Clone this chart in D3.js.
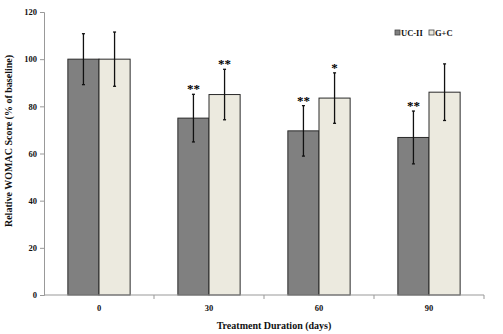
<!DOCTYPE html>
<html>
<head>
<meta charset="utf-8">
<script src="https://cdn.jsdelivr.net/npm/d3@7"></script>
<style>
  body { margin: 0; background: #fff; }
  svg text { font-family: "Liberation Serif", "Times New Roman", serif; font-weight: bold; }
</style>
</head>
<body>
<div class="chart"></div>
<script>
let days = ['0', '30', '60', '90'];
let groups = ['UC-II', 'G+C'];
let ucValues = [100, 75, 69.6, 66.8];
let ucErrors = [10.8, 10.1, 10.7, 11.2];
let gcValues = [100, 85, 83.5, 86];
let gcErrors = [11.5, 10.7, 10.7, 12];
let ucStars = ['', '**', '**', '**'];
let gcStars = ['', '**', '*', ''];
let yTicks = [0, 20, 40, 60, 80, 100, 120];

let width = 503, height = 334;
let margin = {left: 44, right: 19, top: 12, bottom: 39};

let svg = d3.select('div.chart').append('svg')
  .attr('width', width).attr('height', height);

let x = d3.scaleBand()
  .domain(days)
  .range([margin.left, width - margin.right])
  .paddingInner(0).paddingOuter(0);

let barW = x.bandwidth() * 0.283;

let xSub = d3.scaleBand()
  .domain(groups)
  .range([-barW, barW]);

let y = d3.scaleLinear()
  .domain([0, 120])
  .range([height - margin.bottom, margin.top]);

let colors = {'UC-II': '#808080', 'G+C': '#eceadf'};

let rows = days.map((d, i) => [
  {day: d, group: 'UC-II', v: ucValues[i], e: ucErrors[i], star: ucStars[i]},
  {day: d, group: 'G+C', v: gcValues[i], e: gcErrors[i], star: gcStars[i]}
]).flat();

// bars
svg.selectAll('rect.bar')
  .data(rows)
  .enter().append('rect')
  .attr('class', 'bar')
  .attr('x', d => x(d.day) + x.bandwidth() / 2 + xSub(d.group))
  .attr('y', d => y(d.v))
  .attr('width', xSub.bandwidth())
  .attr('height', d => y(0) - y(d.v))
  .attr('fill', d => colors[d.group])
  .attr('stroke', '#2a2a2a')
  .attr('stroke-width', 1);

// axes
let yAxis = d3.axisLeft(y).tickValues(yTicks).tickSize(4).tickPadding(3);
let gy = svg.append('g')
  .attr('transform', 'translate(' + margin.left + ',0)')
  .call(yAxis);
gy.select('.domain').attr('stroke', '#999');
gy.selectAll('.tick line').attr('stroke', '#999');
gy.selectAll('.tick text').attr('font-size', '8.5px').attr('fill', '#111')
  .attr('font-family', '"Liberation Serif", serif').attr('font-weight', 'bold');

let gx = svg.append('g')
  .attr('transform', 'translate(0,' + y(0) + ')');
gx.append('line')
  .attr('x1', margin.left).attr('x2', width - margin.right)
  .attr('stroke', '#999');
gx.selectAll('line.tk')
  .data(days)
  .enter().append('line')
  .attr('class', 'tk')
  .attr('x1', d => x(d) + x.bandwidth()).attr('x2', d => x(d) + x.bandwidth())
  .attr('y1', 0).attr('y2', 4)
  .attr('stroke', '#999');
gx.selectAll('text')
  .data(days)
  .enter().append('text')
  .attr('x', d => x(d) + x.bandwidth() / 2)
  .attr('y', 16)
  .attr('text-anchor', 'middle')
  .attr('font-size', '8.5px')
  .attr('fill', '#111')
  .text(d => d);

// error bars
let eb = svg.selectAll('g.err')
  .data(rows)
  .enter().append('g')
  .attr('class', 'err')
  .attr('transform', d => 'translate(' + (x(d.day) + x.bandwidth() / 2 + xSub(d.group) + xSub.bandwidth() / 2) + ',0)');

eb.append('line')
  .attr('y1', d => y(d.v + d.e)).attr('y2', d => y(d.v - d.e))
  .attr('stroke', '#111').attr('stroke-width', 1.3);
eb.append('line')
  .attr('x1', -1.5).attr('x2', 1.5)
  .attr('y1', d => y(d.v + d.e)).attr('y2', d => y(d.v + d.e))
  .attr('stroke', '#111').attr('stroke-width', 1.3);
eb.append('line')
  .attr('x1', -1.5).attr('x2', 1.5)
  .attr('y1', d => y(d.v - d.e)).attr('y2', d => y(d.v - d.e))
  .attr('stroke', '#111').attr('stroke-width', 1.3);

// significance stars
eb.append('text')
  .attr('y', d => y(d.v + d.e) - 1)
  .attr('text-anchor', 'middle')
  .attr('font-size', '13px')
  .attr('fill', '#000')
  .text(d => d.star);

// legend
let legend = svg.append('g').attr('transform', 'translate(395,33)');
let li = legend.selectAll('g')
  .data(groups)
  .enter().append('g')
  .attr('transform', (d, i) => 'translate(' + (i * 34) + ',0)');
li.append('rect')
  .attr('x', 0).attr('y', -3)
  .attr('width', 5).attr('height', 5)
  .attr('fill', d => colors[d])
  .attr('stroke', '#444').attr('stroke-width', 0.8);
li.append('text')
  .attr('x', 6).attr('y', 2.5)
  .attr('font-size', '8.5px')
  .attr('fill', '#111')
  .text(d => d);

// axis titles
svg.append('text')
  .attr('transform', 'translate(12,' + 141 + ') rotate(-90)')
  .attr('text-anchor', 'middle')
  .attr('font-size', '10px')
  .attr('fill', '#111')
  .text('Relative WOMAC Score (% of baseline)');

svg.append('text')
  .attr('x', (margin.left + width - margin.right) / 2 + 10)
  .attr('y', 329)
  .attr('text-anchor', 'middle')
  .attr('font-size', '10px')
  .attr('fill', '#111')
  .text('Treatment Duration (days)');
</script>
</body>
</html>
